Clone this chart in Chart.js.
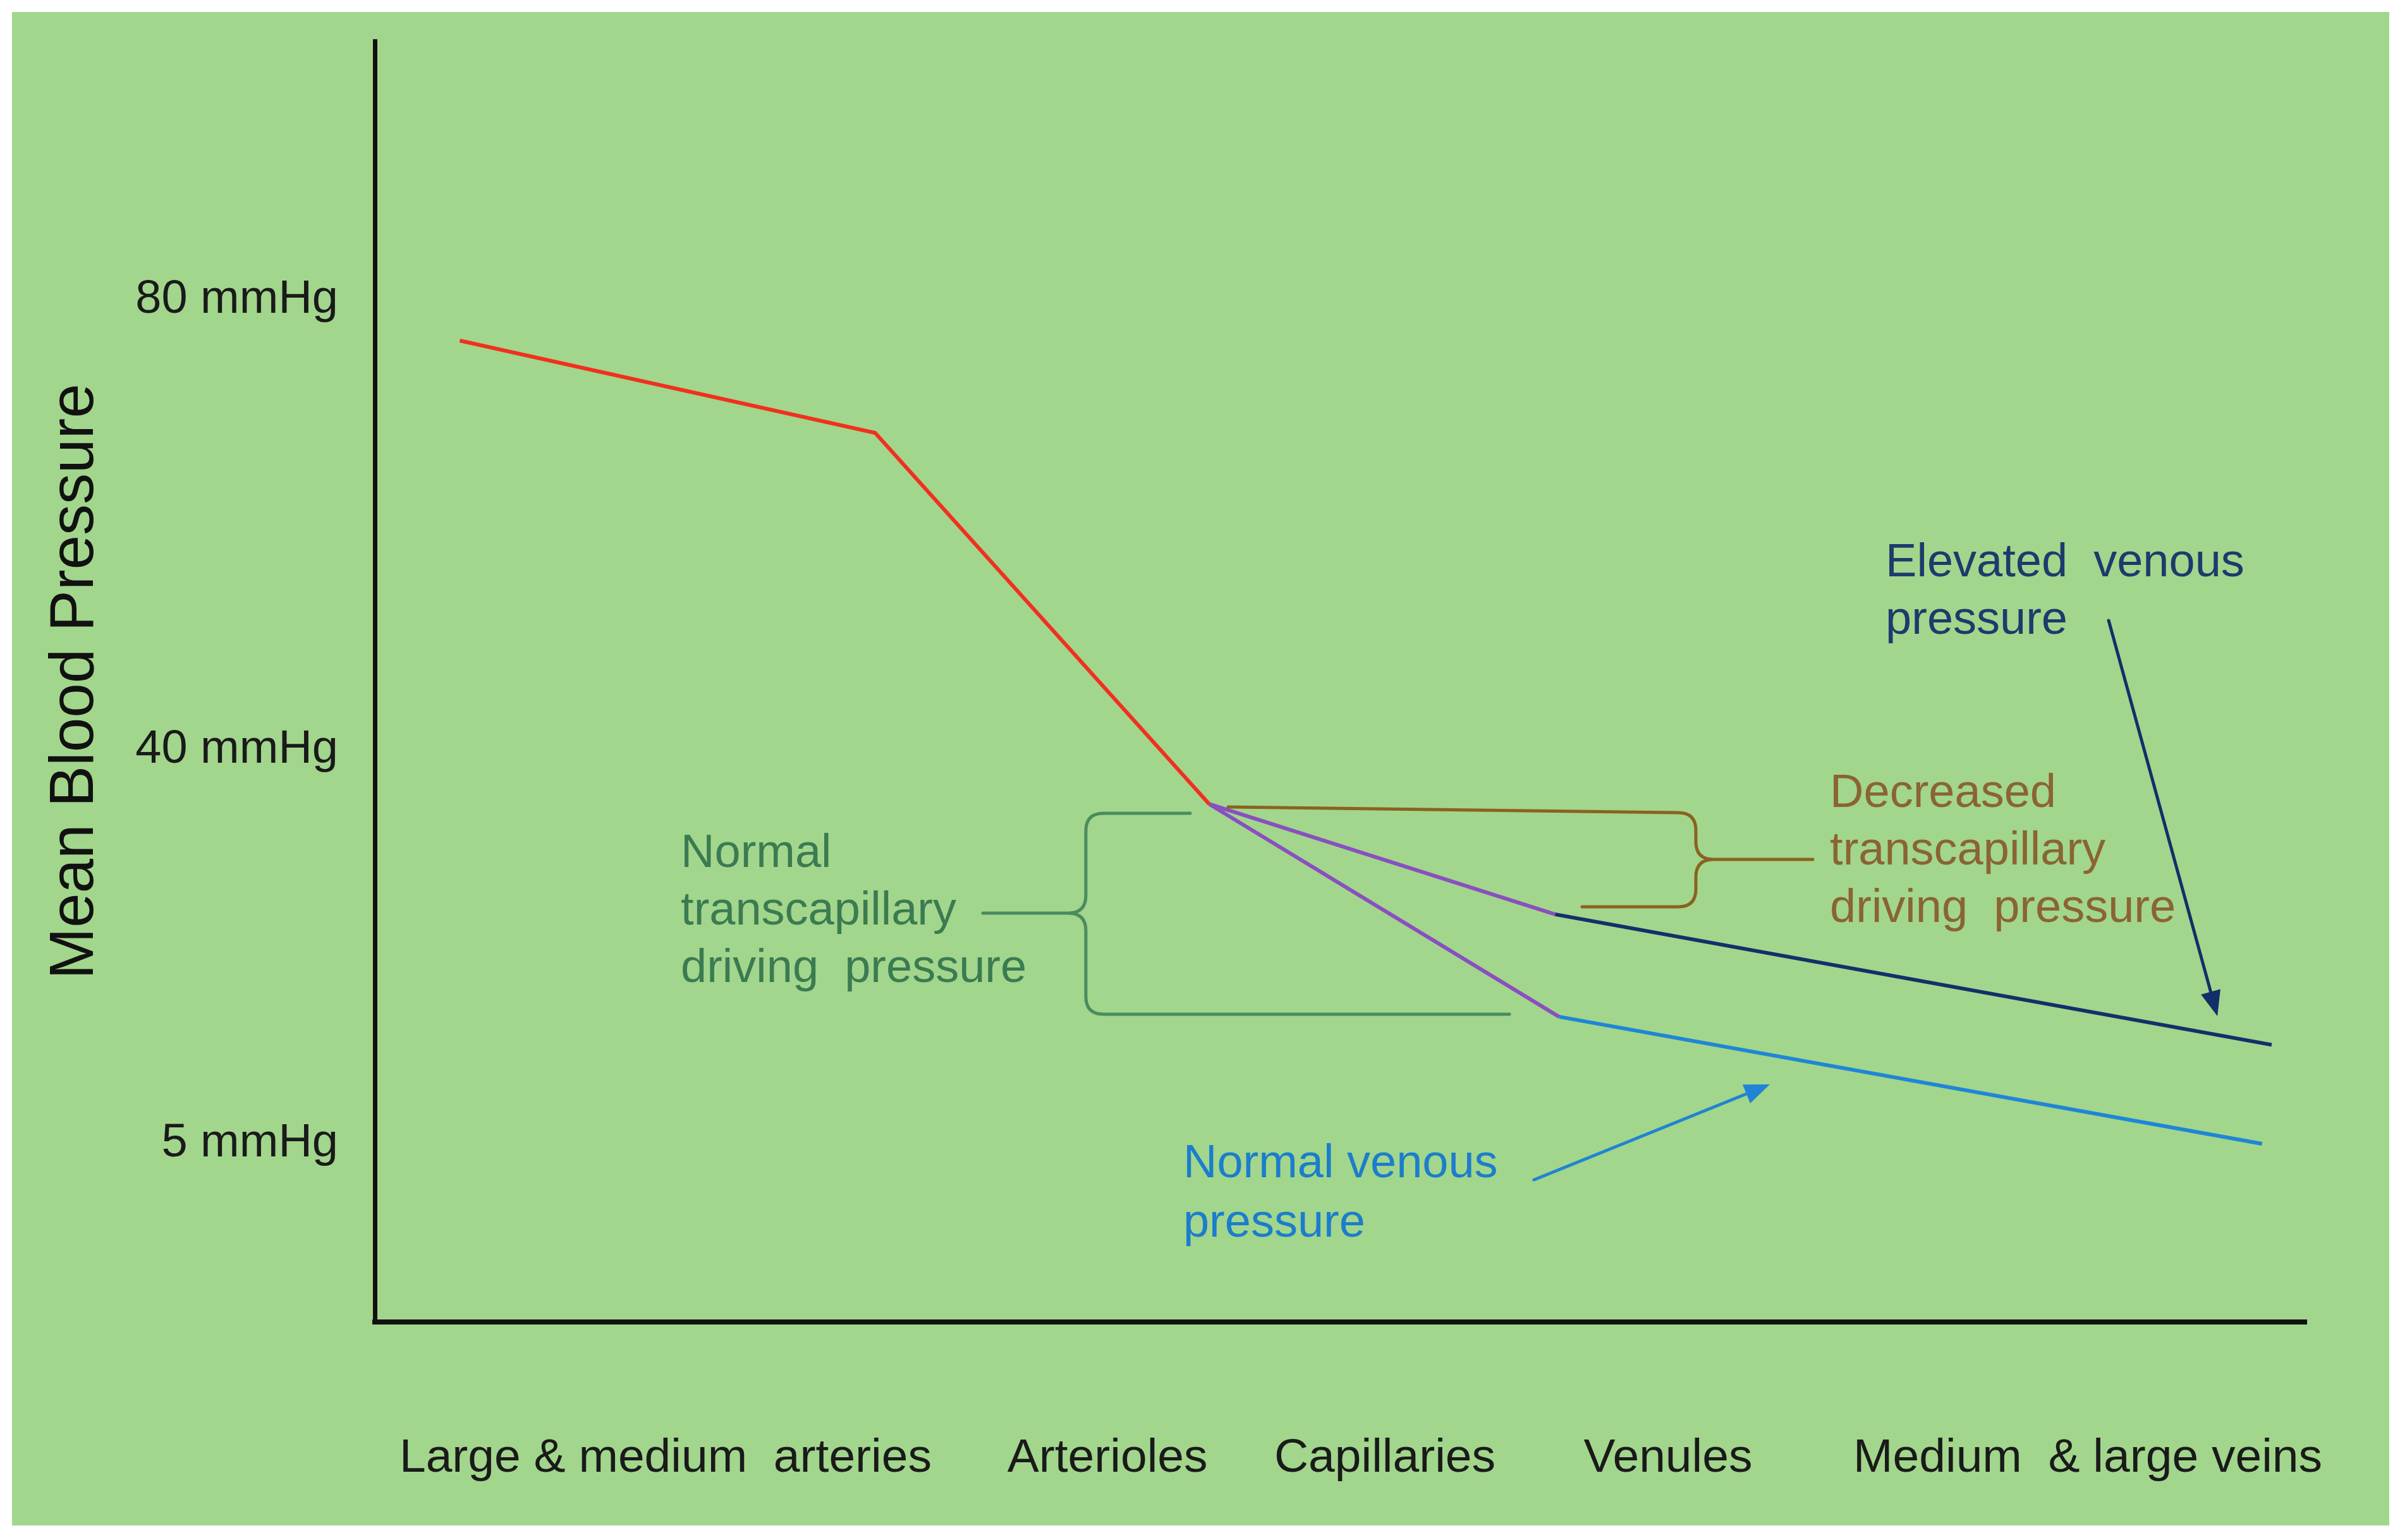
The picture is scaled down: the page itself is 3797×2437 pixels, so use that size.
<!DOCTYPE html>
<html><head><meta charset="utf-8">
<script src="https://cdn.jsdelivr.net/npm/chart.js@4.4.1/dist/chart.umd.min.js"></script>
<style>
html,body{margin:0;padding:0;background:#ffffff;width:3797px;height:2437px;overflow:hidden;}
#wrap{position:absolute;left:19px;top:19px;width:3761px;height:2395px;}
</style></head><body>
<div id="wrap"><canvas id="c"></canvas></div>
<script>
// ---- data ----
const stageLabels = ['Large & medium  arteries', 'Arterioles', 'Capillaries', 'Venules', 'Medium  & large veins'];
const stagePositions = [15.05, 37.93, 52.29, 66.95, 88.68];
const pressureTicks = [5, 40, 80];

const arterialX = [4.4, 25.9, 43.2];
const arterialY = [76.4, 68.2, 35.2];
const capElevatedX = [43.2, 61.1];
const capElevatedY = [35.2, 25.4];
const capNormalX = [43.2, 61.3];
const capNormalY = [35.2, 16.3];
const veinElevatedX = [61.1, 98.2];
const veinElevatedY = [25.4, 13.8];
const veinNormalX = [61.3, 97.7];
const veinNormalY = [16.3, 5.0];

const toPts = (xs, ys) => xs.map((v, i) => ({x: v, y: ys[i]}));

// ---- annotations (data units) ----
const greenBrace = {armEnd: 42.21, top: 34.38, spine: 36.81, tipY: 25.51, tipX: 31.48, bottom: 16.52, bottomEnd: 58.74};
const brownBrace = {armStart: 44.18, armStartY: 34.94, top: 34.44, spine: 68.39, tipY: 30.28, tipX: 74.44, bottom: 26.07, bottomEnd: 62.50};
const notes = [
  {x: 15.84, y: 29.61, lines: ['Normal', 'transcapillary', 'driving  pressure'], color: '#3b7b52', gap: 91},
  {x: 75.33, y: 34.94, lines: ['Decreased', 'transcapillary', 'driving  pressure'], color: '#8a6432', gap: 91},
  {x: 78.21, y: 55.45, lines: ['Elevated  venous', 'pressure'], color: '#1f3a6c', gap: 91},
  {x: 41.85, y: 2.02, lines: ['Normal venous', 'pressure'], color: '#1b7dcc', gap: 94}
];
const arrows = [
  {from: [89.76, 51.52], to: [95.39, 16.35], color: '#142f68'},
  {from: [60.01, 1.80], to: [72.22, 10.28], color: '#1f84d4'}
];

const FONT = '"Liberation Sans", Arial, sans-serif';

const bgPlugin = {
  id: 'bg',
  beforeDraw(chart) {
    const ctx = chart.ctx;
    ctx.save();
    ctx.fillStyle = '#a2d68c';
    ctx.fillRect(0, 0, chart.width, chart.height);
    ctx.restore();
  }
};

const annotPlugin = {
  id: 'annot',
  afterDatasetsDraw(chart) {
    const {ctx, scales: {x, y}} = chart;
    const X = v => x.getPixelForValue(v), Y = v => y.getPixelForValue(v);
    const r = 28;
    ctx.save();
    ctx.lineCap = 'round';
    ctx.lineJoin = 'round';

    // green brace "{"
    let b = greenBrace;
    let sx = X(b.spine), ty = Y(b.top), tip = Y(b.tipY), by = Y(b.bottom);
    ctx.strokeStyle = '#4a8c5e';
    ctx.lineWidth = 5;
    ctx.beginPath();
    ctx.moveTo(X(b.armEnd), ty);
    ctx.lineTo(sx + r, ty);
    ctx.quadraticCurveTo(sx, ty, sx, ty + r);
    ctx.lineTo(sx, tip - r);
    ctx.quadraticCurveTo(sx, tip, sx - r, tip);
    ctx.lineTo(X(b.tipX), tip);
    ctx.moveTo(sx - r, tip);
    ctx.quadraticCurveTo(sx, tip, sx, tip + r);
    ctx.lineTo(sx, by - r);
    ctx.quadraticCurveTo(sx, by, sx + r, by);
    ctx.lineTo(X(b.bottomEnd), by);
    ctx.stroke();

    // brown brace "}"
    b = brownBrace;
    sx = X(b.spine); ty = Y(b.top); tip = Y(b.tipY); by = Y(b.bottom);
    ctx.strokeStyle = '#8a6220';
    ctx.beginPath();
    ctx.moveTo(X(b.armStart), Y(b.armStartY));
    ctx.lineTo(sx - r, ty);
    ctx.quadraticCurveTo(sx, ty, sx, ty + r);
    ctx.lineTo(sx, tip - r);
    ctx.quadraticCurveTo(sx, tip, sx + r, tip);
    ctx.lineTo(X(b.tipX), tip);
    ctx.moveTo(sx + r, tip);
    ctx.quadraticCurveTo(sx, tip, sx, tip + r);
    ctx.lineTo(sx, by - r);
    ctx.quadraticCurveTo(sx, by, sx - r, by);
    ctx.lineTo(X(b.bottomEnd), by);
    ctx.stroke();

    // arrows
    arrows.forEach(a => {
      const x1 = X(a.from[0]), y1 = Y(a.from[1]), x2 = X(a.to[0]), y2 = Y(a.to[1]);
      const ang = Math.atan2(y2 - y1, x2 - x1);
      const L = 40, W = 16;
      ctx.strokeStyle = a.color;
      ctx.fillStyle = a.color;
      ctx.lineWidth = 5;
      ctx.beginPath();
      ctx.moveTo(x1, y1);
      ctx.lineTo(x2 - L * 0.8 * Math.cos(ang), y2 - L * 0.8 * Math.sin(ang));
      ctx.stroke();
      ctx.beginPath();
      ctx.moveTo(x2, y2);
      ctx.lineTo(x2 - L * Math.cos(ang) + W * Math.sin(ang), y2 - L * Math.sin(ang) - W * Math.cos(ang));
      ctx.lineTo(x2 - L * Math.cos(ang) - W * Math.sin(ang), y2 - L * Math.sin(ang) + W * Math.cos(ang));
      ctx.closePath();
      ctx.fill();
    });

    // texts
    ctx.font = '74px ' + FONT;
    ctx.textAlign = 'left';
    ctx.textBaseline = 'alphabetic';
    notes.forEach(n => {
      ctx.fillStyle = n.color;
      n.lines.forEach((t, i) => ctx.fillText(t, X(n.x), Y(n.y) + i * n.gap));
    });
    ctx.restore();
  }
};

const zeroPad = s => { s.paddingTop = 0; s.paddingBottom = 0; s.paddingLeft = 0; s.paddingRight = 0; };

const lineDs = (label, xs, ys, color) => ({
  label, data: toPts(xs, ys), borderColor: color, backgroundColor: color,
  borderWidth: 6, pointRadius: 0, tension: 0, fill: false
});

new Chart(document.getElementById('c'), {
  type: 'line',
  data: {
    datasets: [
      lineDs('Arterial pressure', arterialX, arterialY, '#f2301f'),
      lineDs('Capillary (elevated venous)', capElevatedX, capElevatedY, '#8a4fc0'),
      lineDs('Capillary (normal venous)', capNormalX, capNormalY, '#8a4fc0'),
      lineDs('Elevated venous pressure', veinElevatedX, veinElevatedY, '#13306b'),
      lineDs('Normal venous pressure', veinNormalX, veinNormalY, '#1f86d6')
    ]
  },
  options: {
    responsive: true,
    maintainAspectRatio: false,
    animation: false,
    devicePixelRatio: 1,
    layout: {padding: {top: 46, right: 131, bottom: 0, left: 0}},
    plugins: {legend: {display: false}, tooltip: {enabled: false}},
    scales: {
      x: {
        type: 'linear', min: 0, max: 100, bounds: 'data',
        grid: {display: false, drawTicks: false},
        border: {display: true, color: '#111', width: 8},
        afterBuildTicks: s => { s.ticks = stagePositions.map(v => ({value: v})); },
        afterFit: s => { s.height = 322; zeroPad(s); },
        ticks: {
          autoSkip: false, maxRotation: 0, minRotation: 0, padding: 171,
          color: '#1a1a1a', font: {family: FONT, size: 75},
          callback: (v, i) => stageLabels[i]
        }
      },
      y: {
        type: 'linear', min: -10.84, max: 103.03, bounds: 'data',
        grid: {display: false, drawTicks: false},
        border: {display: true, color: '#111', width: 7},
        afterBuildTicks: s => { s.ticks = pressureTicks.map(v => ({value: v})); },
        afterFit: s => { s.width = 574; zeroPad(s); },
        ticks: {
          padding: 58, color: '#1a1a1a', font: {family: FONT, size: 74},
          callback: v => v + ' mmHg'
        },
        title: {
          display: true, text: 'Mean Blood Pressure', color: '#111',
          font: {family: FONT, size: 98}, padding: {top: 42, bottom: 0}
        }
      }
    }
  },
  plugins: [bgPlugin, annotPlugin]
});
</script></body></html>
